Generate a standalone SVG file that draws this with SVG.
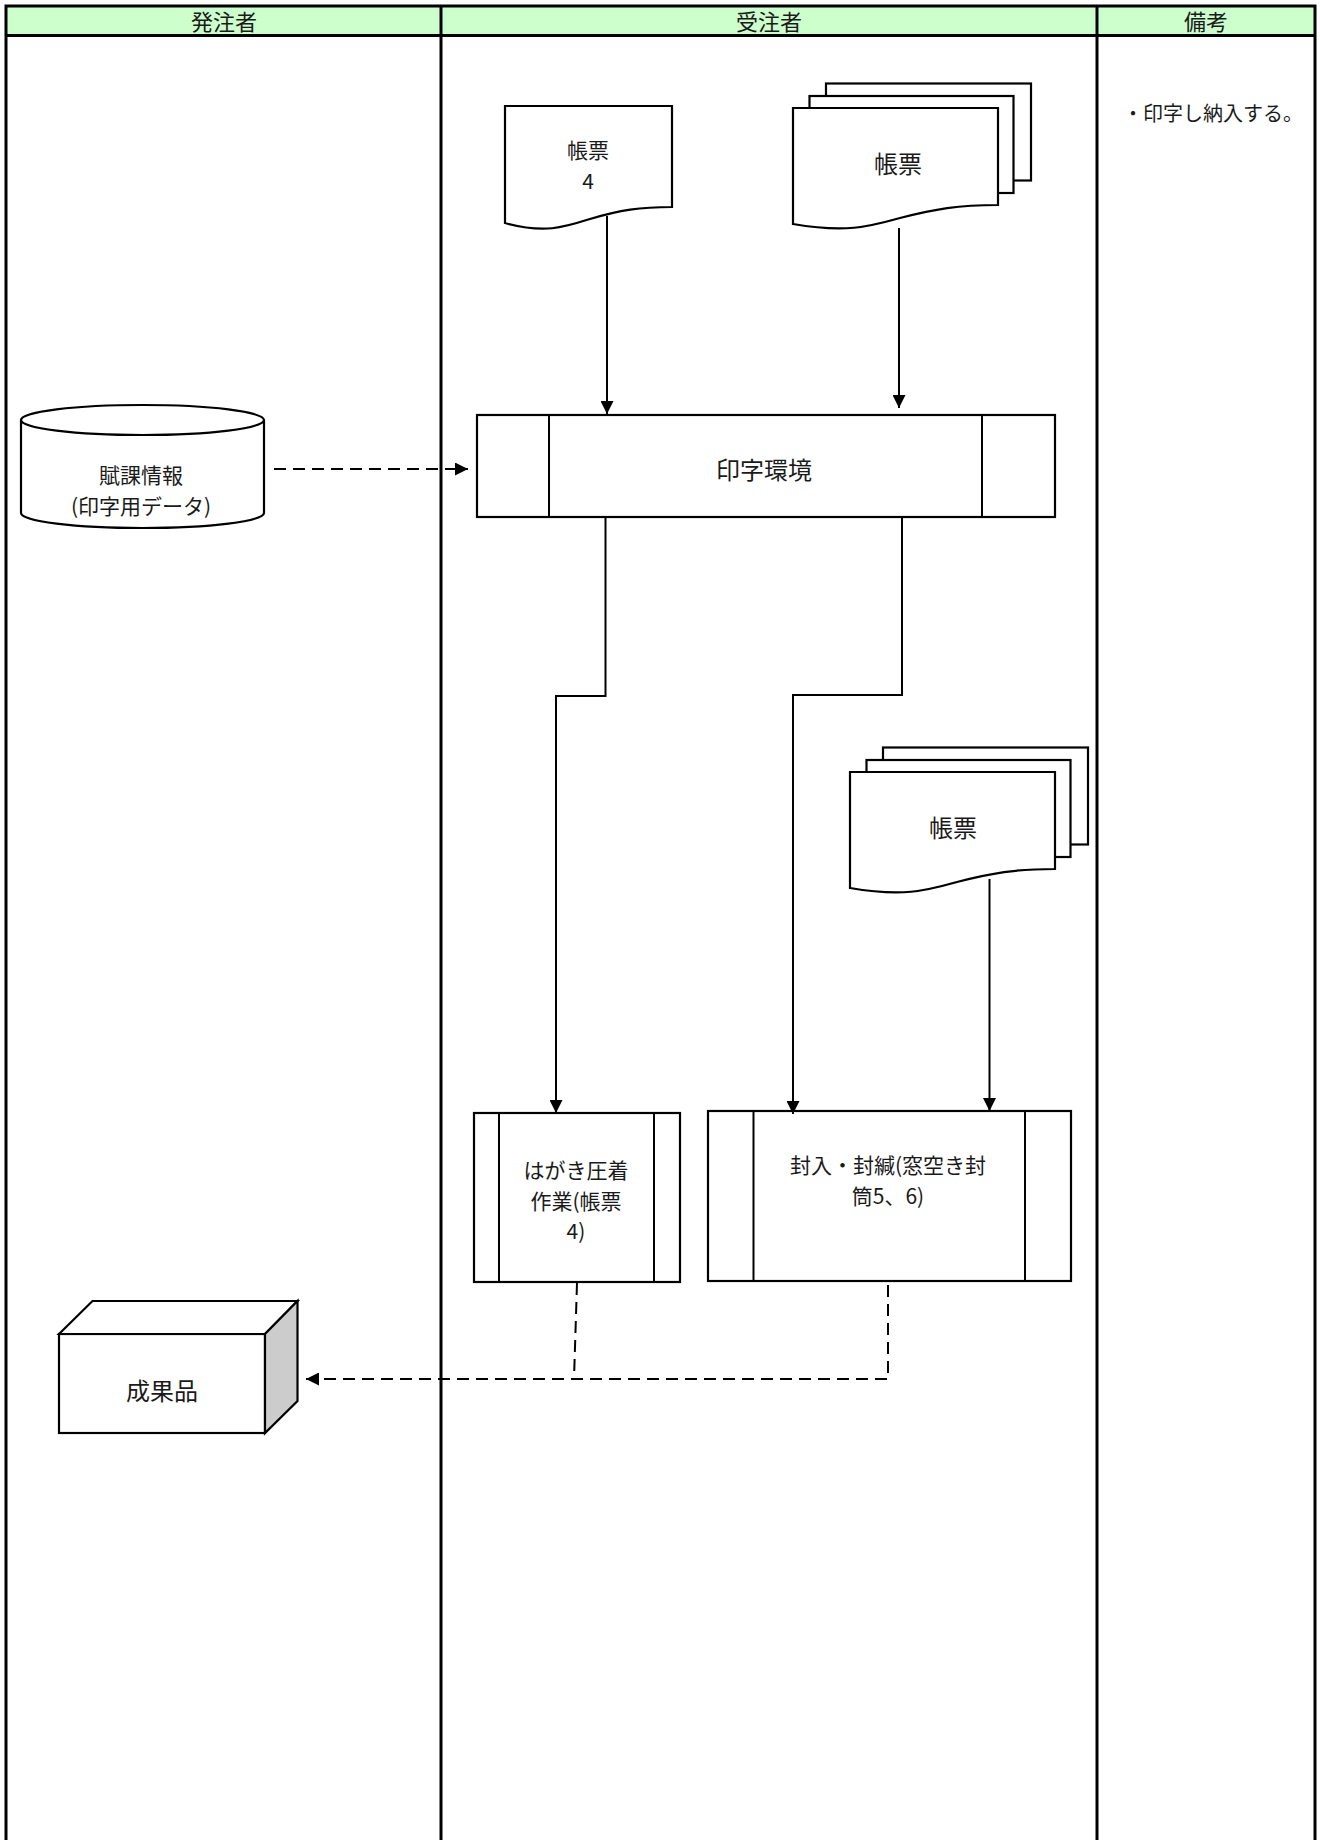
<svg xmlns="http://www.w3.org/2000/svg" width="1320" height="1840" viewBox="0 0 1320 1840">
<style>
text{font-family:"Noto Sans CJK JP","Noto Sans",sans-serif;fill:#1a1a1a;}
.hd{font-size:22px;text-anchor:middle;dominant-baseline:central;}
.t{font-size:24px;text-anchor:middle;dominant-baseline:central;}
.m{font-size:21px;text-anchor:middle;dominant-baseline:central;}
.note{font-size:20px;dominant-baseline:central;}
.lane{stroke:#000;stroke-width:3;fill:none;}
.sh{stroke:#000;stroke-width:2.2;fill:#fff;}
.ln{stroke:#000;stroke-width:2;fill:none;}
.cn{stroke:#000;stroke-width:2;fill:none;}
.ds{stroke:#000;stroke-width:2;fill:none;stroke-dasharray:12 7;}
</style>
<defs>
<marker id="ah" viewBox="0 0 13 13" refX="13" refY="6.5" markerWidth="13" markerHeight="13" markerUnits="userSpaceOnUse" orient="auto">
<path d="M0,0 L13,6.5 L0,13 Z" fill="#000"/>
</marker>
</defs>
<rect width="1320" height="1840" fill="#fff"/>
<g id="lanes">
<rect x="6" y="6" width="1309" height="29.5" fill="#ccffcc"/>
<path class="lane" d="M6,1840 V6 H1315 V1840 M6,35.5 H1315 M441,6 V1840 M1097,6 V1840"/>
<text class="hd" x="224" y="19.5">発注者</text>
<text class="hd" x="769" y="19.5">受注者</text>
<text class="hd" x="1206" y="19.5">備考</text>
</g>
<g id="note">
<text class="note" x="1123" y="112">・印字し納入する。</text>
</g>
<g id="doc4">
<path class="sh" d="M505,106 H672 V207 C640,207 620,210 590,219 C565,227 545,234 505,223 Z"/>
<text class="m" x="588" y="149">帳票</text>
<text class="m" x="588" y="179.5">4</text>
</g>
<g id="docs1">
<rect class="sh" x="826" y="83.5" width="205" height="97"/>
<rect class="sh" x="809.5" y="96" width="204" height="97"/>
<path class="sh" d="M793,108 H998 V205 C958,205 935,209 900,218 C868,227 845,233 793,224 Z"/>
<text class="t" x="898" y="162">帳票</text>
</g>
<g id="db">
<path class="sh" d="M21,420 V513 A121.5,15 0 0 0 264,513 V420"/>
<ellipse class="sh" cx="142.5" cy="420" rx="121.5" ry="15"/>
<text class="m" x="141" y="474">賦課情報</text>
<text class="m" x="141" y="504.5">(印字用データ)</text>
</g>
<g id="print">
<rect class="sh" x="477" y="415" width="578" height="102"/>
<path class="ln" d="M549,415 V517 M982,415 V517"/>
<text class="t" x="764" y="468">印字環境</text>
</g>
<g id="docs2" transform="translate(57,664)">
<rect class="sh" x="826" y="83.5" width="205" height="97"/>
<rect class="sh" x="809.5" y="96" width="204" height="97"/>
<path class="sh" d="M793,108 H998 V205 C958,205 935,209 900,218 C868,227 845,233 793,224 Z"/>
<text class="t" x="896" y="162">帳票</text>
</g>
<g id="hagaki">
<rect class="sh" x="474" y="1113" width="206" height="169"/>
<path class="ln" d="M499,1113 V1282 M654,1113 V1282"/>
<text class="m" x="576" y="1169">はがき圧着</text>
<text class="m" x="576" y="1199.5">作業(帳票</text>
<text class="m" x="576" y="1230">4)</text>
</g>
<g id="fuunyu">
<rect class="sh" x="708" y="1111" width="363" height="170"/>
<path class="ln" d="M753.5,1111 V1281 M1025,1111 V1281"/>
<text class="m" x="888" y="1164">封入・封緘(窓空き封</text>
<text class="m" x="888" y="1194.5">筒5、6)</text>
</g>
<g id="product">
<rect class="sh" x="59" y="1334" width="206" height="99"/>
<path class="sh" d="M59,1334 L92.5,1301 H297.5 L265,1334 Z"/>
<path class="sh" d="M265,1334 L297.5,1301 V1401 L265,1433 Z" style="fill:#cccccc"/>
<text class="t" x="162" y="1389">成果品</text>
</g>
<g id="connectors">
<path class="cn" d="M607,216 V414" marker-end="url(#ah)"/>
<path class="cn" d="M899,228 V408" marker-end="url(#ah)"/>
<path class="ds" d="M274,469 H468" marker-end="url(#ah)"/>
<path class="cn" d="M605.5,517 V696 H556 V1113" marker-end="url(#ah)"/>
<path class="cn" d="M902,517 V695 H793 V1114" marker-end="url(#ah)"/>
<path class="cn" d="M989.5,879 V1111" marker-end="url(#ah)"/>
<path class="ds" d="M577,1283 L574,1379"/>
<path class="ds" d="M888,1285 V1379 H306" marker-end="url(#ah)"/>
</g>
</svg>
